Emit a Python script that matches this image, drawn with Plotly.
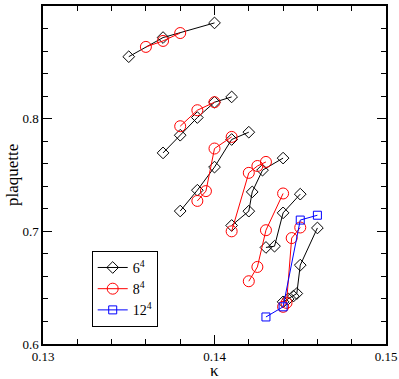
import plotly.graph_objects as go

# lattice 6^4 (several runs, one break between each with None)
kappa_6 = [0.135, 0.137, 0.140, None,
           0.137, 0.138, 0.139, 0.140, 0.141, None,
           0.138, 0.139, 0.140, 0.141, 0.142, None,
           0.141, 0.142, 0.1422, 0.1428, 0.144, None,
           0.143, 0.1435, 0.144, 0.145, None,
           0.144, 0.1443, 0.1446, 0.1448, 0.145, 0.146]
plaq_6 = [0.855, 0.872, 0.885, None,
          0.7696, 0.7853, 0.801, 0.8146, 0.8193, None,
          0.718, 0.7365, 0.757, 0.7815, 0.788, None,
          0.7052, 0.7179, 0.735, 0.7543, 0.765, None,
          0.6857, 0.6868, 0.7164, 0.733, None,
          0.6374, 0.640, 0.6425, 0.6448, 0.670, 0.703]

# lattice 8^4
kappa_8 = [0.136, 0.137, 0.138, None,
           0.138, 0.139, 0.140, None,
           0.139, 0.1395, 0.140, 0.141, None,
           0.141, 0.142, 0.1425, 0.143, None,
           0.142, 0.1425, 0.143, 0.144, None,
           0.144, 0.1442, 0.1445, 0.145]
plaq_8 = [0.8637, 0.869, 0.876, None,
          0.7933, 0.8075, 0.8146, None,
          0.727, 0.7357, 0.7735, 0.7838, None,
          0.700, 0.7519, 0.758, 0.7616, None,
          0.6557, 0.6684, 0.701, 0.7336, None,
          0.633, 0.6365, 0.694, 0.7034]

# lattice 12^4
kappa_12 = [0.143, 0.144, 0.145, 0.146]
plaq_12 = [0.624, 0.633, 0.710, 0.7143]

SERIF = "Liberation Serif"

fig = go.Figure()

fig.add_trace(go.Scatter(
    x=kappa_6, y=plaq_6, mode="lines+markers", name="6<sup>4</sup>",
    line=dict(color="black", width=1),
    marker=dict(symbol="diamond-open", size=9, color="black", line=dict(width=1))
))
fig.add_trace(go.Scatter(
    x=kappa_8, y=plaq_8, mode="lines+markers", name="8<sup>4</sup>",
    line=dict(color="red", width=1),
    marker=dict(symbol="circle-open", size=11, color="red", line=dict(width=1))
))
fig.add_trace(go.Scatter(
    x=kappa_12, y=plaq_12, mode="lines+markers", name="12<sup>4</sup>",
    line=dict(color="blue", width=1),
    marker=dict(symbol="square-open", size=8, color="blue", line=dict(width=1))
))

axis_common = dict(
    showgrid=False, zeroline=False, showline=True, linecolor="black", linewidth=1.5,
    mirror="allticks", ticks="inside", ticklen=9, tickcolor="black", tickwidth=1,
    tickfont=dict(family=SERIF, size=13, color="black"), automargin=False,
)

fig.update_xaxes(
    range=[0.13, 0.15], tickvals=[0.13, 0.14, 0.15], ticktext=["0.13", "0.14", "0.15"],
    minor=dict(dtick=0.002, ticks="inside", ticklen=5, tickcolor="black", showgrid=False),
    ticklabeloverflow="allow",
    **axis_common
)
fig.update_yaxes(
    range=[0.6, 0.9], tickvals=[0.6, 0.7, 0.8, 0.9], ticktext=["0.6", "0.7", "0.8", "0.9"],
    minor=dict(dtick=0.02, ticks="inside", ticklen=5, tickcolor="black", showgrid=False),
    **axis_common
)

# axis titles as annotations so they sit exactly where the original has them
fig.add_annotation(text="κ", xref="paper", yref="paper", x=0.5, y=0,
                   yanchor="middle", yshift=-26, showarrow=False,
                   font=dict(family=SERIF, size=17, color="black"))
fig.add_annotation(text="plaquette", xref="paper", yref="paper", x=0, y=0.5,
                   xanchor="center", xshift=-31, textangle=-90, showarrow=False,
                   font=dict(family=SERIF, size=17, color="black"))

fig.update_layout(
    width=399, height=379,
    paper_bgcolor="white", plot_bgcolor="white",
    margin=dict(l=43, r=13, t=6, b=35),
    font=dict(family=SERIF, color="black"),
    legend=dict(
        x=0.142, y=0.2755, xanchor="left", yanchor="top",
        bgcolor="white", bordercolor="black", borderwidth=1,
        font=dict(family=SERIF, size=14, color="black"),
        itemwidth=30, tracegroupgap=0,
    ),
)

# drop the default 8px body margin so the figure sits at the window's corner
fig.write_html("out.html", config={"displayModeBar": False},
               post_script="document.body.style.margin = '0';")
